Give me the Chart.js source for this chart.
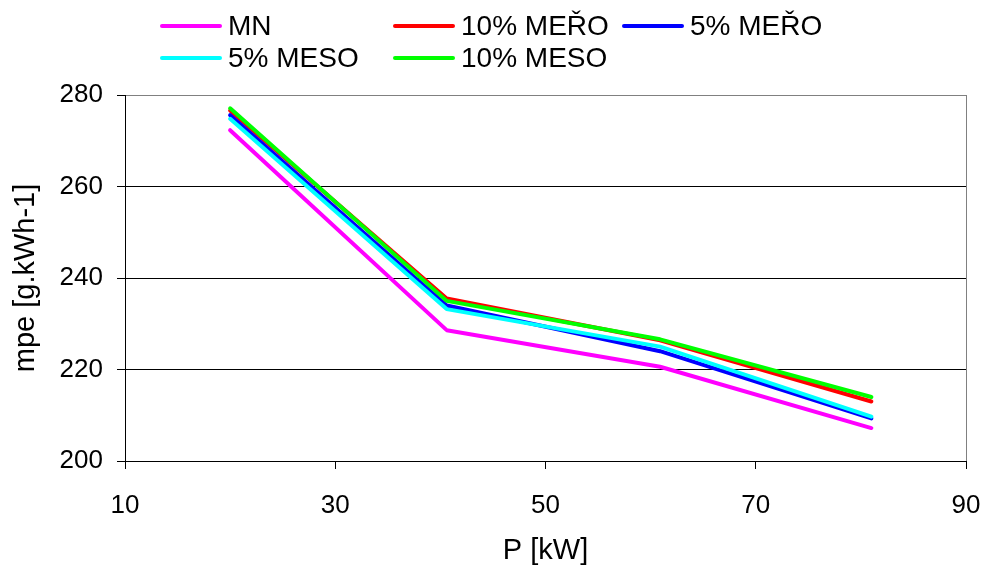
<!DOCTYPE html>
<html>
<head>
<meta charset="utf-8">
<script src="https://cdn.jsdelivr.net/npm/chart.js@4/dist/chart.umd.min.js"></script>
<style>
  html, body { margin: 0; padding: 0; background: #fff; }
  #wrap { position: relative; width: 984px; height: 565px; font-family: "Liberation Sans", Arial, sans-serif; }
  #c { position: absolute; left: 0; top: 0; }
  .lg { position: absolute; height: 32px; display: flex; align-items: center; font-size: 28px; color: #000; white-space: nowrap; }
  .lg span.ln { display: inline-block; width: 62px; height: 4px; border-radius: 2px; margin-right: 6px; }
</style>
</head>
<body>
<div id="wrap">
  <canvas id="c" width="984" height="565"></canvas>
</div>
<script>
// ---- data ----
const xValues = [20, 40.6, 60.9, 81];
const seriesLabels = ["MN", "10% MEŘO", "5% MEŘO", "5% MESO", "10% MESO"];
const mnValues      = [272.3, 228.6, 220.6, 207.2];
const meroTen       = [276.6, 235.5, 226.4, 213.0];
const meroFive      = [275.6, 234.0, 224.0, 209.3];
const mesoFive      = [274.8, 233.2, 225.0, 209.7];
const mesoTen       = [277.1, 235.0, 226.6, 214.0];
const xTicks = [10, 30, 50, 70, 90];
const yTicks = [200, 220, 240, 260, 280];

const seriesValues = [mnValues, meroTen, meroFive, mesoFive, mesoTen];
const seriesColors = ["#FF00FF", "#FF0000", "#0000FF", "#00FFFF", "#00FF00"];

// legend grid positions (line start x, row center y)
const legendPos = [[160, 26], [393, 26], [622, 26], [160, 58], [393, 58]];

const wrap = document.getElementById('wrap');
seriesLabels.forEach((lab, i) => {
  const d = document.createElement('div');
  d.className = 'lg';
  d.style.left = legendPos[i][0] + 'px';
  d.style.top = (legendPos[i][1] - 16) + 'px';
  const ln = document.createElement('span');
  ln.className = 'ln';
  ln.style.background = seriesColors[i];
  const t = document.createElement('span');
  t.textContent = lab;
  d.appendChild(ln); d.appendChild(t);
  wrap.appendChild(d);
});

const datasets = seriesLabels.map((lab, i) => ({
  label: lab,
  data: xValues.map((x, j) => ({ x: x, y: seriesValues[i][j] })),
  borderColor: seriesColors[i],
  backgroundColor: seriesColors[i],
  borderWidth: 4,
  pointRadius: 0,
  tension: 0,
  fill: false,
  borderCapStyle: 'round',
  borderJoinStyle: 'round',
  order: seriesLabels.length - i
}));

const frame = {
  id: 'frame',
  beforeDatasetsDraw(chart) {
    const { ctx, chartArea: a } = chart;
    ctx.save();
    ctx.strokeStyle = '#808080';
    ctx.lineWidth = 1;
    ctx.beginPath();
    ctx.moveTo(a.right + 0.5, a.top);
    ctx.lineTo(a.right + 0.5, a.bottom);
    ctx.stroke();
    ctx.restore();
  }
};

const fontFam = '"Liberation Sans", Arial, sans-serif';

new Chart(document.getElementById('c'), {
  type: 'line',
  data: { datasets },
  plugins: [frame],
  options: {
    responsive: false,
    animation: false,
    layout: { padding: { top: 95, right: 18, bottom: 0, left: 0 } },
    plugins: { legend: { display: false }, tooltip: { enabled: false } },
    scales: {
      x: {
        type: 'linear',
        min: 10, max: 90,
        afterBuildTicks(scale) { scale.ticks = xTicks.map(v => ({ value: v })); },
        afterFit(scale) { scale.height = 104; scale.paddingRight = 0; scale.paddingLeft = 0; },
        ticks: { font: { size: 26, family: fontFam }, color: '#000', padding: 21, maxRotation: 0 },
        grid: { drawOnChartArea: false, drawTicks: true, tickLength: 8, color: '#000' },
        border: { color: '#000', width: 1 },
        title: { display: true, text: 'P [kW]', font: { size: 29, family: fontFam, lineHeight: 1 }, color: '#000', padding: { top: 0, bottom: 0 } }
      },
      y: {
        min: 200, max: 280,
        afterBuildTicks(scale) { scale.ticks = yTicks.map(v => ({ value: v })); },
        afterFit(scale) { scale.width = 125; scale.paddingTop = 0; scale.paddingBottom = 0; },
        ticks: { font: { size: 26, family: fontFam }, color: '#000', padding: 14 },
        grid: {
          drawTicks: true, tickLength: 8,
          color: ctx => (ctx.tick && ctx.tick.value === 280) ? '#808080' : '#000',
          tickColor: '#000'
        },
        border: { color: '#000', width: 1 },
        title: { display: true, text: 'mpe [g.kWh-1]', font: { size: 29, family: fontFam, lineHeight: 1 }, color: '#000', padding: { top: 11, bottom: 0 } }
      }
    }
  }
});
</script>
</body>
</html>
